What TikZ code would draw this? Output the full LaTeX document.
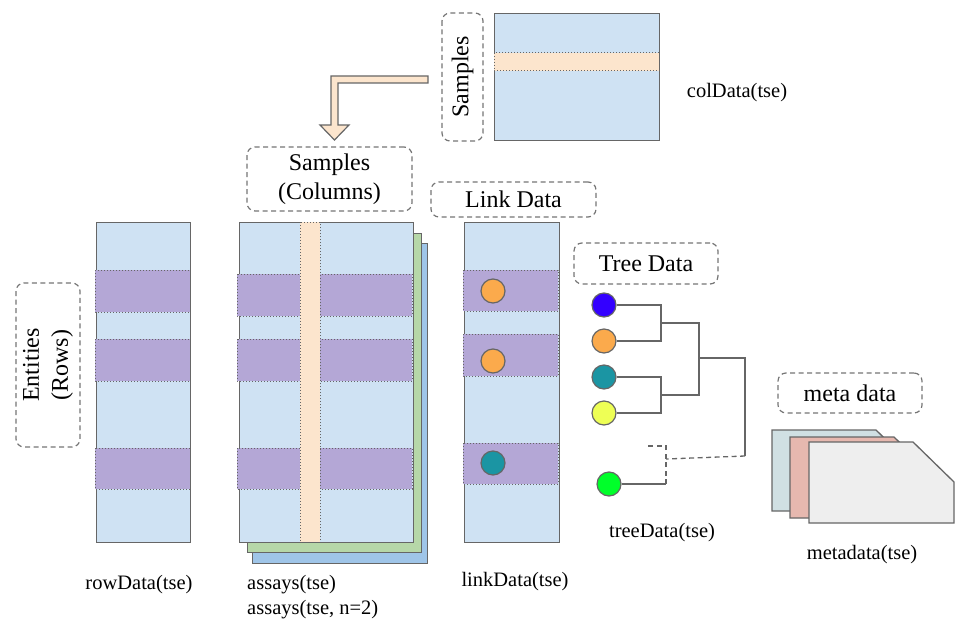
\documentclass[tikz,border=0pt]{standalone}
\usepackage{fontspec}
\setmainfont{Liberation Serif}
\definecolor{lblue}{HTML}{CFE2F3}
\definecolor{lpurple}{HTML}{B4A7D6}
\definecolor{lpeach}{HTML}{FCE5CD}
\definecolor{lgreen}{HTML}{B6D7A8}
\definecolor{mblue}{HTML}{9FC5E8}
\definecolor{edgec}{HTML}{666666}
\definecolor{metaA}{HTML}{D0E0E3}
\definecolor{metaB}{HTML}{E6B8AF}
\definecolor{metaC}{HTML}{EEEEEE}
\definecolor{cblue}{HTML}{3300FF}
\definecolor{corange}{HTML}{FBAA4C}
\definecolor{cteal}{HTML}{1B95A3}
\definecolor{cyellow}{HTML}{EEFF55}
\definecolor{cgreen}{HTML}{00FF2A}
\tikzset{
  mat/.style={draw=edgec, line width=1.3pt, fill=lblue, anchor=north west, inner sep=0pt},
  band/.style={fill=lpurple, draw=edgec, dotted, line width=1pt},
  stripe/.style={fill=lpeach, draw=edgec, dotted, line width=1pt},
  dbox/.style={draw=edgec!90, dash pattern=on 5pt off 3.5pt, line width=1.2pt, rounded corners=8pt, inner sep=0pt, font=\fontsize{24}{29}\selectfont, align=center},
  lab/.style={font=\fontsize{20.5}{25}\selectfont, align=left, inner sep=0pt},
  leaf/.style={circle, draw=edgec, line width=1.2pt, minimum size=24pt, inner sep=0pt},
  tree/.style={draw=edgec, line width=1.3pt},
  dtree/.style={draw=edgec, line width=1.3pt, dash pattern=on 5pt off 3.5pt},
  meta/.style={draw=edgec, line width=1.3pt},
}
\begin{document}
\begin{tikzpicture}[x=1pt, y=-1pt]
\useasboundingbox (0,0) rectangle (965,631);

% ---- colData ----
\node[mat, minimum width=165pt, minimum height=127pt] (col) at (494,13) {};
\path[stripe] (494,53) rectangle (659,71);
\node[dbox, rotate=90, minimum width=128pt, minimum height=41pt] (samp) at (462.5,77) {Samples};
\node[lab] (coll) at (737,93) {colData(tse)};

% ---- arrow ----
\draw[draw=edgec, line width=1.2pt, fill=lpeach, line join=miter]
  (428,76) -- (331,76) -- (331,125) -- (320,125) -- (334.5,140) -- (349,125)
  -- (338,125) -- (338,83) -- (428,83) -- cycle;

% ---- header boxes ----
\node[dbox, minimum width=165pt, minimum height=64pt] (sampcol) at (329.5,179) {Samples\\(Columns)};
\node[dbox, minimum width=165pt, minimum height=35pt] (link) at (513.5,199.5) {Link Data};
\node[dbox, minimum width=144pt, minimum height=41pt] (treeh) at (646,263.5) {Tree Data};
\node[dbox, minimum width=144pt, minimum height=40pt] (metah) at (850,393) {meta data};
\node[dbox, rotate=90, minimum width=164pt, minimum height=64pt] (ent) at (48,365) {Entities\\(Rows)};

% ---- rowData ----
\node[mat, minimum width=94pt, minimum height=320pt] (row) at (96,222) {};
\path[band] (95,270) rectangle (190,312);
\path[band] (95,339) rectangle (190,381);
\path[band] (95,448) rectangle (190,489);
\node[lab] (rowl) at (139,585) {rowData(tse)};

% ---- assays ----
\node[mat, fill=mblue, minimum width=175pt, minimum height=320pt] (as3) at (252,243) {};
\node[mat, fill=lgreen, minimum width=174pt, minimum height=319pt] (as2) at (247,233) {};
\node[mat, minimum width=174pt, minimum height=320pt] (as1) at (239,222) {};
\path[band] (237,274) rectangle (412,316);
\path[band] (237,339) rectangle (412,381);
\path[band] (237,448) rectangle (412,489);
\path[stripe] (300,222) rectangle (320,542);
\node[lab, anchor=west] (asl) at (247,597.5) {assays(tse)\\assays(tse, n=2)};

% ---- linkData ----
\node[mat, minimum width=95pt, minimum height=320pt] (lnk) at (464,222) {};
\path[band] (463,270) rectangle (558,311);
\path[band] (463,334) rectangle (558,376);
\path[band] (463,443) rectangle (558,484);
\node[leaf, fill=corange] (l1) at (493,291) {};
\node[leaf, fill=corange] (l2) at (493,361) {};
\node[leaf, fill=cteal] (l3) at (493,463) {};
\node[lab] (lnkl) at (515,582) {linkData(tse)};

% ---- tree ----
\node[leaf, fill=cblue] (t1) at (604,305) {};
\node[leaf, fill=corange] (t2) at (604,341) {};
\node[leaf, fill=cteal] (t3) at (604,377) {};
\node[leaf, fill=cyellow] (t4) at (604,413) {};
\node[leaf, fill=cgreen] (t5) at (609,484) {};
\coordinate (a1) at (661,305);
\coordinate (a2) at (661,341);
\coordinate (a3) at (661,377);
\coordinate (a4) at (661,413);
\coordinate (j1) at (661,323);
\coordinate (j2) at (661,395);
\coordinate (k1) at (699,323);
\coordinate (k2) at (699,395);
\coordinate (k) at (699,358);
\coordinate (r) at (745,358);
\coordinate (r2) at (745,456);
\coordinate (g1) at (666,484);
\coordinate (g2) at (666,446);
\coordinate (g3) at (645,446);
\coordinate (g4) at (666,459);
\draw[tree] (t1.east) -- (a1) -- (a2) -- (t2.east);
\draw[tree] (t3.east) -- (a3) -- (a4) -- (t4.east);
\draw[tree] (j1) -- (k1) -- (k2) -- (j2);
\draw[tree] (k) -- (r) -- (r2);
\draw[dtree] (r2) -- (g4);
\draw[tree] (t5.east) -- (g1);
\draw[dtree] (g1) -- (g2) -- (g3);
\node[lab] (treel) at (662,533) {treeData(tse)};

% ---- metadata ----
\draw[meta, fill=metaA] (772,430) -- (876,430) -- (917,470) -- (917,511) -- (772,511) -- cycle;
\draw[meta, fill=metaB] (790,437) -- (894,437) -- (935,477) -- (935,518) -- (790,518) -- cycle;
\draw[meta, fill=metaC] (809,442) -- (913,442) -- (954,482) -- (954,523) -- (809,523) -- cycle;
\node[lab] (metal) at (862,555) {metadata(tse)};
\end{tikzpicture}
\end{document}
